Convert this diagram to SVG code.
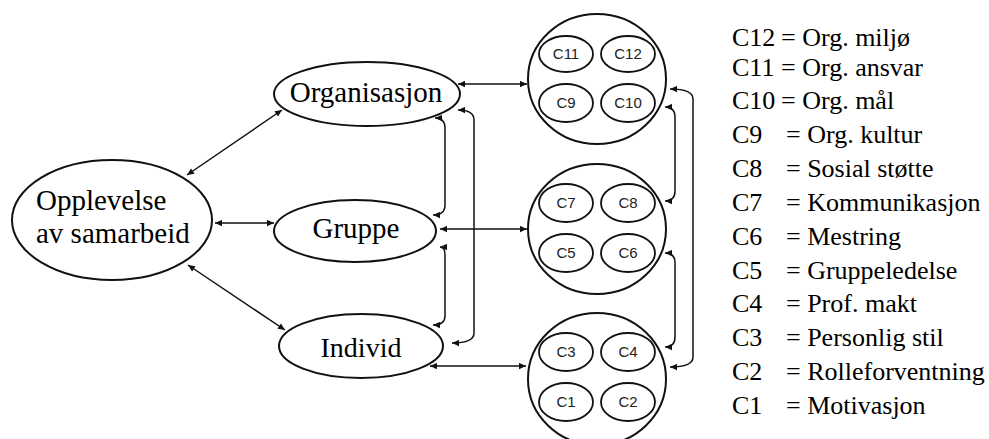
<svg xmlns="http://www.w3.org/2000/svg" width="989" height="439" viewBox="0 0 989 439">
<defs>
<marker id="ah" viewBox="0 0 10 10" refX="10" refY="5" markerWidth="9" markerHeight="7" markerUnits="userSpaceOnUse" orient="auto-start-reverse"><path d="M0,0.5 L10,5 L0,9.5 z" fill="#111"/></marker>
</defs>
<rect width="989" height="439" fill="#fff"/>
<g id="connectors" fill="none" stroke="#111" stroke-width="1.5" marker-start="url(#ah)" marker-end="url(#ah)">
<path d="M187,175 L282,110"/>
<path d="M215,223 L274,223"/>
<path d="M188,265 L285,330"/>
<path d="M458,84 L527,84"/>
<path d="M440,229 L527,229"/>
<path d="M430,366 L526,366"/>
<path d="M435,118 Q445,118 445,128 L445,205 Q445,215 433,215"/>
<path d="M440,247 Q445,247 445,255 L445,316 Q445,325 433,325"/>
<path d="M458,110 Q474,110 474,120 L474,333 Q474,343 452,343"/>
<path d="M665,107 Q675,107 675,117 L675,191 Q675,201 665,201"/>
<path d="M665,253 Q675,253 675,263 L675,337 Q675,347 665,347"/>
<path d="M670,89 Q693,89 693,99 L693,357 Q693,367 670,367"/>
</g>
<g id="opplevelse" font-size="29">
<ellipse cx="112" cy="220" rx="100" ry="60" fill="#fff" stroke="#111" stroke-width="2"/>
<text x="36" y="210" font-family="Liberation Serif">Opplevelse</text>
<text x="36" y="243" font-family="Liberation Serif">av samarbeid</text>
</g>
<g id="organisasjon" font-size="29">
<ellipse cx="367" cy="94" rx="93" ry="32" fill="#fff" stroke="#111" stroke-width="2"/>
<text x="366" y="102" font-family="Liberation Serif" text-anchor="middle">Organisasjon</text>
</g>
<g id="gruppe" font-size="29">
<ellipse cx="355" cy="231" rx="81" ry="31" fill="#fff" stroke="#111" stroke-width="2"/>
<text x="356" y="238" font-family="Liberation Serif" text-anchor="middle">Gruppe</text>
</g>
<g id="individ" font-size="28">
<ellipse cx="361" cy="346" rx="82" ry="32" fill="#fff" stroke="#111" stroke-width="2"/>
<text x="361" y="357" font-family="Liberation Serif" text-anchor="middle">Individ</text>
</g>
<g id="org-factors" fill="none" stroke="#111" stroke-width="1.8" font-size="15">
<ellipse cx="597" cy="79" rx="69" ry="65" fill="#fff" stroke-width="2"/>
<ellipse cx="566" cy="54" rx="27" ry="18"/>
<ellipse cx="628" cy="54" rx="27" ry="18"/>
<ellipse cx="566" cy="103" rx="27" ry="19"/>
<ellipse cx="628" cy="103" rx="27" ry="19"/>
<text x="566" y="59" font-family="Liberation Sans" fill="#222" stroke="none" text-anchor="middle">C11</text>
<text x="628" y="59" font-family="Liberation Sans" fill="#222" stroke="none" text-anchor="middle">C12</text>
<text x="566" y="108" font-family="Liberation Sans" fill="#222" stroke="none" text-anchor="middle">C9</text>
<text x="628" y="108" font-family="Liberation Sans" fill="#222" stroke="none" text-anchor="middle">C10</text>
</g>
<g id="group-factors" fill="none" stroke="#111" stroke-width="1.8" font-size="15">
<ellipse cx="597" cy="229" rx="69" ry="65" fill="#fff" stroke-width="2"/>
<ellipse cx="566" cy="203" rx="27" ry="19"/>
<ellipse cx="628" cy="203" rx="27" ry="19"/>
<ellipse cx="566" cy="253" rx="27" ry="19"/>
<ellipse cx="628" cy="253" rx="27" ry="19"/>
<text x="566" y="208" font-family="Liberation Sans" fill="#222" stroke="none" text-anchor="middle">C7</text>
<text x="628" y="208" font-family="Liberation Sans" fill="#222" stroke="none" text-anchor="middle">C8</text>
<text x="566" y="258" font-family="Liberation Sans" fill="#222" stroke="none" text-anchor="middle">C5</text>
<text x="628" y="258" font-family="Liberation Sans" fill="#222" stroke="none" text-anchor="middle">C6</text>
</g>
<g id="individual-factors" fill="none" stroke="#111" stroke-width="1.8" font-size="15">
<ellipse cx="597" cy="379" rx="69" ry="66" fill="#fff" stroke-width="2"/>
<ellipse cx="566" cy="352" rx="27" ry="19"/>
<ellipse cx="628" cy="352" rx="27" ry="19"/>
<ellipse cx="566" cy="402" rx="27" ry="19"/>
<ellipse cx="628" cy="402" rx="27" ry="19"/>
<text x="566" y="357" font-family="Liberation Sans" fill="#222" stroke="none" text-anchor="middle">C3</text>
<text x="628" y="357" font-family="Liberation Sans" fill="#222" stroke="none" text-anchor="middle">C4</text>
<text x="566" y="407" font-family="Liberation Sans" fill="#222" stroke="none" text-anchor="middle">C1</text>
<text x="628" y="407" font-family="Liberation Sans" fill="#222" stroke="none" text-anchor="middle">C2</text>
</g>
<g id="legend" font-size="26">
<text y="46" font-family="Liberation Serif"><tspan x="732">C12</tspan><tspan x="781">= Org. milj&#248;</tspan></text>
<text y="76" font-family="Liberation Serif"><tspan x="732">C11</tspan><tspan x="781">= Org. ansvar</tspan></text>
<text y="109" font-family="Liberation Serif"><tspan x="732">C10</tspan><tspan x="781">= Org. m&#229;l</tspan></text>
<text y="143" font-family="Liberation Serif"><tspan x="732">C9</tspan><tspan x="786">= Org. kultur</tspan></text>
<text y="177" font-family="Liberation Serif"><tspan x="732">C8</tspan><tspan x="786">= Sosial st&#248;tte</tspan></text>
<text y="211" font-family="Liberation Serif"><tspan x="732">C7</tspan><tspan x="786">= Kommunikasjon</tspan></text>
<text y="245" font-family="Liberation Serif"><tspan x="732">C6</tspan><tspan x="786">= Mestring</tspan></text>
<text y="279" font-family="Liberation Serif"><tspan x="732">C5</tspan><tspan x="786">= Gruppeledelse</tspan></text>
<text y="312" font-family="Liberation Serif"><tspan x="732">C4</tspan><tspan x="786">= Prof. makt</tspan></text>
<text y="346" font-family="Liberation Serif"><tspan x="732">C3</tspan><tspan x="786">= Personlig stil</tspan></text>
<text y="380" font-family="Liberation Serif"><tspan x="732">C2</tspan><tspan x="786">= Rolleforventning</tspan></text>
<text y="414" font-family="Liberation Serif"><tspan x="732">C1</tspan><tspan x="786">= Motivasjon</tspan></text>
</g>
</svg>
